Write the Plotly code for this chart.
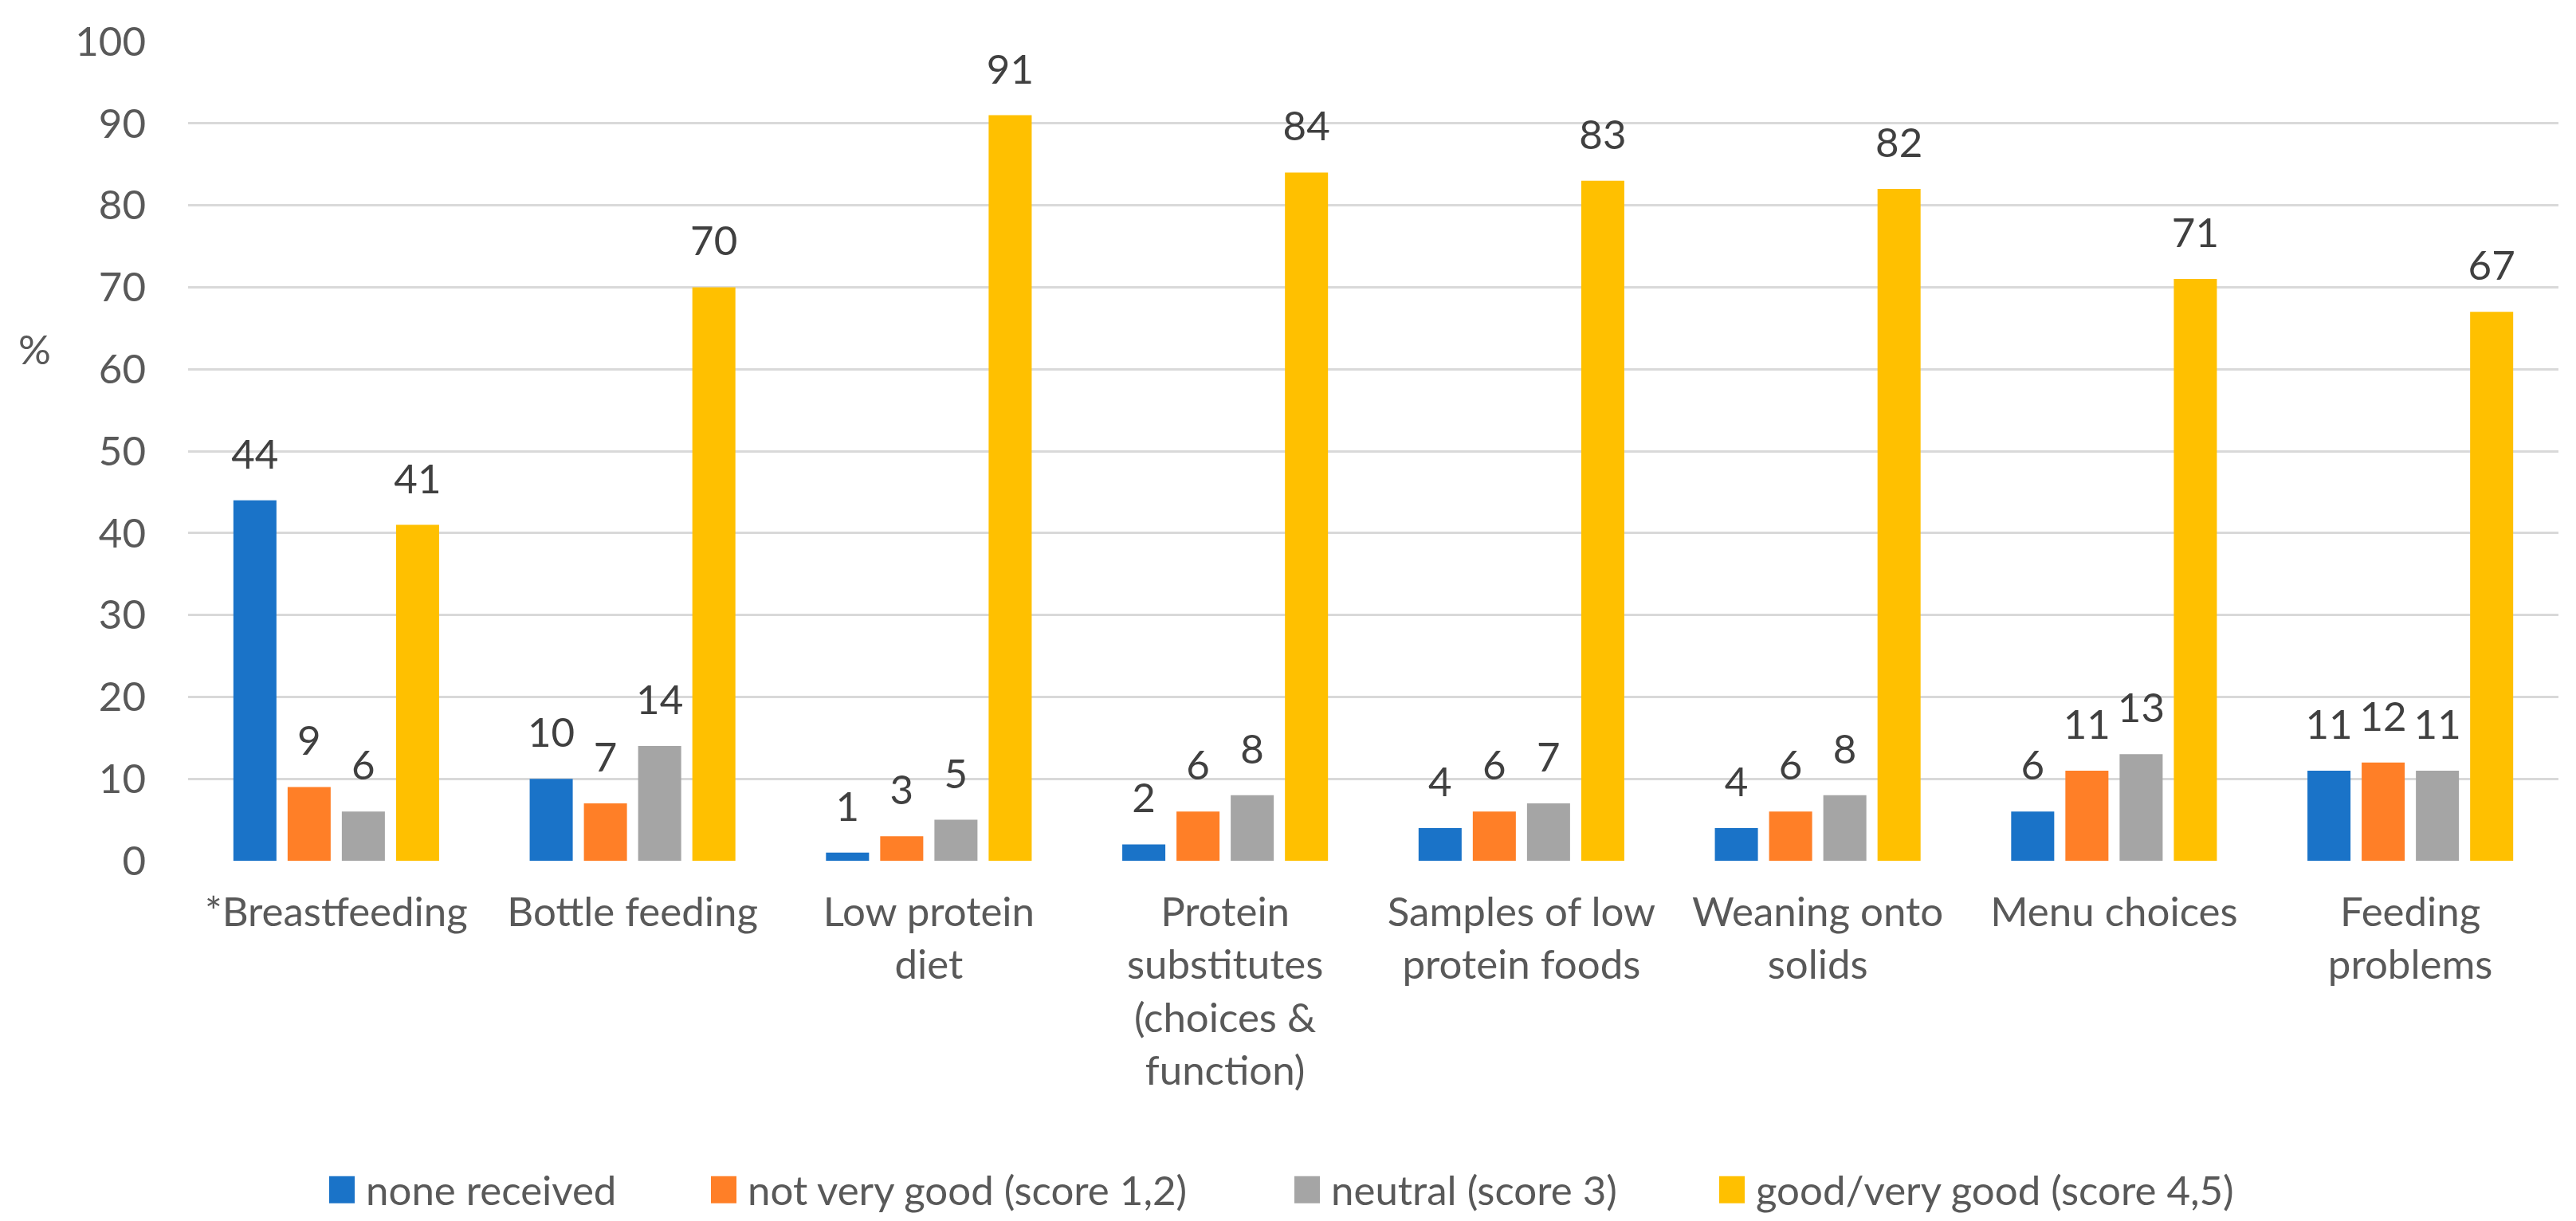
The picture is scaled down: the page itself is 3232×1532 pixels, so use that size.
import plotly.graph_objects as go

categories = [
    "*Breastfeeding",
    "Bottle feeding",
    "Low protein<br>diet",
    "Protein<br>substitutes<br>(choices &<br>function)",
    "Samples of low<br>protein foods",
    "Weaning onto<br>solids",
    "Menu choices",
    "Feeding<br>problems",
]
series_names = [
    "none received",
    "not very good (score 1,2)",
    "neutral (score 3)",
    "good/very good (score 4,5)",
]
none_received = [44, 10, 1, 2, 4, 4, 6, 11]
not_very_good = [9, 7, 3, 6, 6, 6, 11, 12]
neutral = [6, 14, 5, 8, 7, 8, 13, 11]
good = [41, 70, 91, 84, 83, 82, 71, 67]
y_ticks = [0, 10, 20, 30, 40, 50, 60, 70, 80, 90, 100]

values = [none_received, not_very_good, neutral, good]
colors = ["#1A73C8", "#FF7F27", "#A5A5A5", "#FFC000"]

FONT = "Lato"
FS = 51
TICK_COL = "#595959"
LABEL_COL = "#404040"
BARGAP = 0.268

W, H = 3232, 1532
ML, MR, MT, MB = 228, 30, 41, 460
PW = W - ML - MR
PH = H - MT - MB


def px_x(px):
    return (px - ML) / PW


def px_y(py):
    return (H - MB - py) / PH


fig = go.Figure()
for name, vals, col in zip(series_names, values, colors):
    fig.add_trace(go.Bar(
        name=name, x=categories, y=vals,
        marker=dict(color=col, line=dict(width=0)),
        offsetgroup=name, showlegend=False,
    ))
for name, vals in zip(series_names, values):
    fig.add_trace(go.Scatter(
        x=categories, y=vals, mode="markers+text",
        text=[str(v) for v in vals], textposition="top center",
        textfont=dict(family=FONT, size=FS, color=LABEL_COL),
        marker=dict(size=42, opacity=0),
        offsetgroup=name, showlegend=False, hoverinfo="skip",
    ))

# custom legend (square swatch + label), placed below the plot
legend_left = [405, 884, 1616, 2149]
shapes = []
annotations = [dict(
    text="%", xref="paper", yref="y", x=px_x(36), y=62.5,
    xanchor="center", yanchor="middle", showarrow=False,
    font=dict(family=FONT, size=FS, color=TICK_COL),
)]
for name, col, lx in zip(series_names, colors, legend_left):
    shapes.append(dict(
        type="rect", xref="paper", yref="paper",
        x0=px_x(lx), x1=px_x(lx + 32), y0=px_y(1503), y1=px_y(1469),
        fillcolor=col, line=dict(width=0),
    ))
    annotations.append(dict(
        text=name, xref="paper", yref="paper",
        x=px_x(lx + 44), y=px_y(1486), xanchor="left", yanchor="middle",
        showarrow=False, font=dict(family=FONT, size=FS, color=TICK_COL),
    ))

fig.update_layout(
    width=W, height=H,
    margin=dict(l=ML, r=MR, t=MT, b=MB),
    paper_bgcolor="white", plot_bgcolor="white",
    barmode="group", bargap=BARGAP, bargroupgap=0.206,
    scattermode="group", scattergap=BARGAP,
    font=dict(family=FONT, size=FS, color=TICK_COL),
    showlegend=False,
    shapes=shapes,
    annotations=annotations,
)
fig.update_yaxes(
    range=[0, 100], tickvals=y_ticks, ticks="",
    showgrid=True, gridcolor="#D9D9D9", gridwidth=3,
    zeroline=False, showline=False,
    tickfont=dict(family=FONT, size=FS, color=TICK_COL),
    ticklabelstandoff=52,
)
fig.update_xaxes(
    ticks="", showline=False, showgrid=False,
    tickfont=dict(family=FONT, size=FS, color=TICK_COL),
    tickangle=0, ticklabelstandoff=30,
)

fig.write_html("out.html")
